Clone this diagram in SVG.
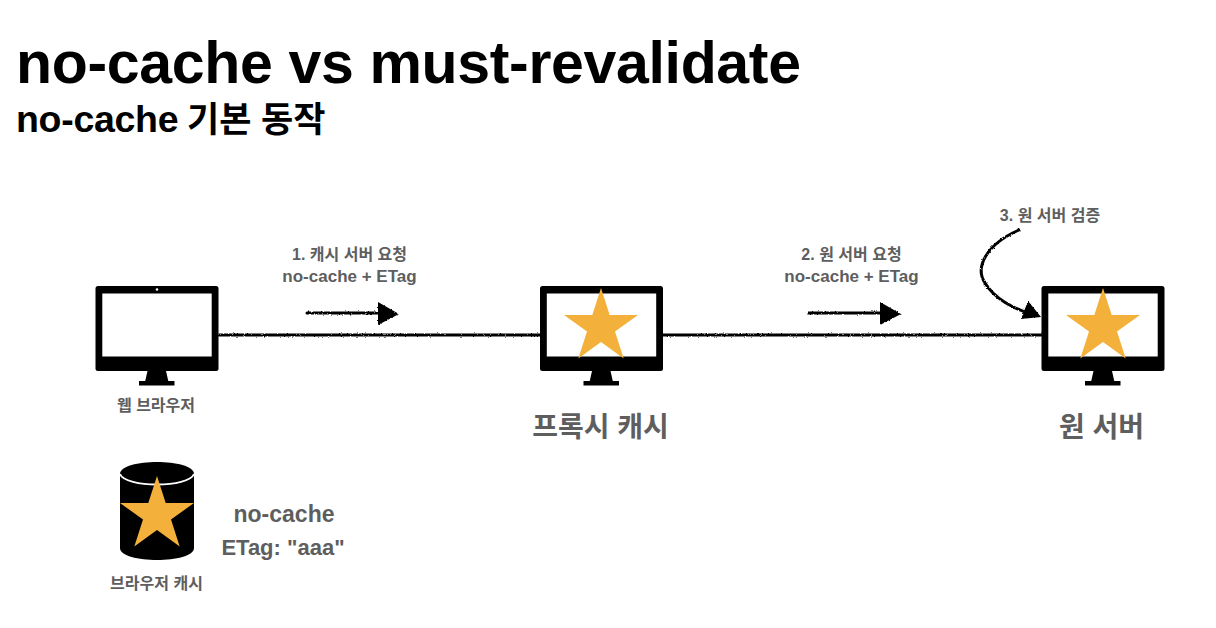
<svg xmlns="http://www.w3.org/2000/svg" width="1216" height="628" viewBox="0 0 1216 628">
<style>
text{font-family:"Liberation Sans","Noto Sans CJK KR",sans-serif;font-weight:700;fill:#5e5e5e;text-anchor:middle}
.h{fill:#000;text-anchor:start}
.k{font-size:16px}
.s{font-size:17px}
.m{font-size:28px}
.line{fill:none;stroke:#000;stroke-width:3;stroke-linecap:round}
.star{fill:#f3b13c}
</style>
<defs>
<filter id="rough" filterUnits="userSpaceOnUse" x="200" y="215" width="860" height="135">
<feTurbulence type="fractalNoise" baseFrequency="0.7" numOctaves="2" seed="4"/>
<feDisplacementMap in="SourceGraphic" scale="2.600" xChannelSelector="R" yChannelSelector="G"/>
</filter>
<g id="mon">
<rect x="0" y="0" width="123" height="85" rx="2.500" fill="#000"/>
<rect x="6.800" y="7.500" width="109.400" height="63" fill="#fff"/>
<path d="M52 85H70.500L73 96H49.500Z" fill="#000"/>
<rect x="43.500" y="95" width="35.500" height="4.500" fill="#000"/>
</g>
<path id="star" class="star" d="M37 0L45.700 27H74L51 43.500L59.700 70.500L37 54L14.300 70.500L23 43.500L0 27H28.300Z"/>
</defs>
<text class="h" x="16" y="83" style="font-size:59px;letter-spacing:-.33px">no-cache vs must-revalidate</text>
<text class="h" x="16" y="132" style="font-size:37.500px;letter-spacing:-.3px">no-cache<tspan x="187" style="font-size:35px;letter-spacing:0">기본 동작</tspan></text>
<g id="connectors" filter="url(#rough)">
<path class="line" d="M219 335H540M663 335H1042"/>
<path class="line" d="M307 313H385M809 313H887"/>
<path d="M378 302L399 314L378 325Z M880 302L901 314L880 325Z" fill="#000"/>
<path class="line" d="M1019 230C985 245 975 268 985 283C994 298 1013 309 1032 314"/>
<path d="M1028 301L1041 317L1021 319Z" fill="#000"/>
</g>
<g id="browser">
<use href="#mon" x="95.500" y="286"/>
<circle cx="157" cy="289.500" r="1.300" fill="#fff"/>
<text class="k" x="156" y="411">웹 브라우저</text>
</g>
<g id="proxy">
<use href="#mon" x="540" y="286"/>
<use href="#star" x="564" y="288"/>
<text class="m" x="600.500" y="437">프록시 캐시</text>
</g>
<g id="origin">
<use href="#mon" x="1041.500" y="286"/>
<use href="#star" x="1066" y="288"/>
<text class="m" x="1101.500" y="437">원 서버</text>
</g>
<g id="cache">
<path d="M120 474C120 458 194 458 194 474V548C194 564 120 564 120 548Z" fill="#000"/>
<path d="M120 474C125 488 189 488 194 474" fill="none" stroke="#fff" stroke-width="1.800"/>
<use href="#star" x="120" y="476"/>
<text class="k" x="156.500" y="589">브라우저 캐시</text>
</g>
<g id="labels">
<text class="k" x="349.500" y="260">1. 캐시 서버 요청</text>
<text class="s" x="349.500" y="282">no-cache + ETag</text>
<text class="k" x="851.500" y="260">2. 원 서버 요청</text>
<text class="s" x="851.500" y="282">no-cache + ETag</text>
<text class="k" x="1050" y="221">3. 원 서버 검증</text>
<text x="284" y="522" style="font-size:23px">no-cache</text>
<text x="283" y="555" style="font-size:22px">ETag: "aaa"</text>
</g>
</svg>
